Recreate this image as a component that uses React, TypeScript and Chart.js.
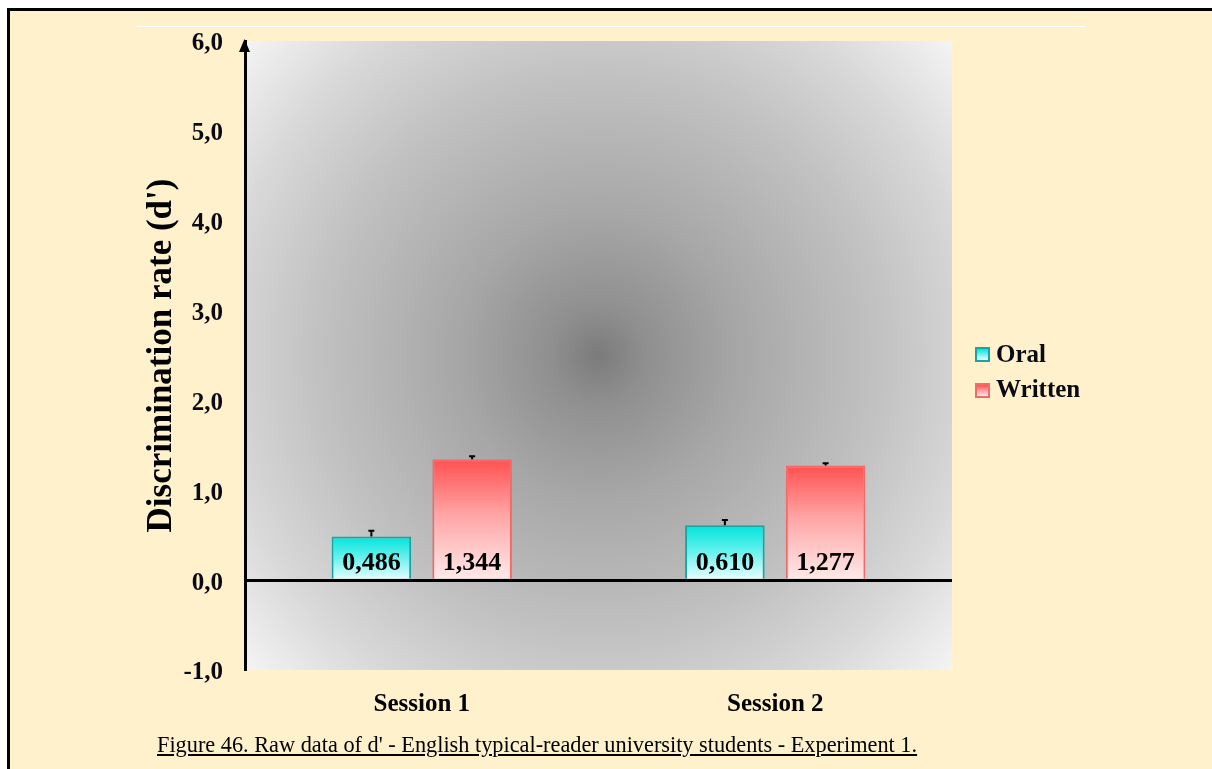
import React, { useEffect, useRef } from 'react';
import { Chart, registerables } from 'chart.js';

Chart.register(...registerables);

const categories = ['Session 1', 'Session 2'];
const seriesNames = ['Oral', 'Written'];
const oralValues = [0.486, 0.61];
const writtenValues = [1.344, 1.277];
const oralErrors = [0.065, 0.06];
const writtenErrors = [0.035, 0.025];
const yMin = -1;
const yMax = 6;
const yStep = 1;
const yTitle = "Discrimination rate (d')";
const caption = "Figure 46. Raw data of d' - English typical-reader university students - Experiment 1.";

const SERIF = "'Liberation Serif', 'Times New Roman', serif";
const fmt = (v: number, d: number) => v.toFixed(d).replace('.', ',');

const oralStops: [number, string][] = [
  [0, '#00e4dc'],
  [0.45, '#5ff0ec'],
  [1, '#eaffff'],
];
const writtenStops: [number, string][] = [
  [0, '#ff5050'],
  [0.45, '#ffa4a4'],
  [1, '#ffeaea'],
];

function barGradient(stops: [number, string][], fallback: string) {
  return (ctx: any) => {
    const chart = ctx.chart;
    if (!chart.chartArea || ctx.type !== 'data') return fallback;
    const y = chart.scales.y;
    const top = y.getPixelForValue(ctx.raw);
    const bot = y.getPixelForValue(0);
    const g = chart.ctx.createLinearGradient(0, top, 0, bot);
    stops.forEach(([o, c]) => g.addColorStop(o, c));
    return g;
  };
}

const backgroundPlugin = {
  id: 'radialBg',
  beforeDraw(chart: any) {
    const { ctx, chartArea } = chart;
    if (!chartArea) return;
    const { left, top, right, bottom } = chartArea;
    const cx = (left + right) / 2;
    const cy = (top + bottom) / 2;
    const r = Math.hypot((right - left) / 2, (bottom - top) / 2);
    const g = ctx.createRadialGradient(cx, cy, 0, cx, cy, r);
    g.addColorStop(0, '#7b7b7b');
    g.addColorStop(0.1, '#8f8f8f');
    g.addColorStop(0.3, '#a7a7a7');
    g.addColorStop(0.6, '#c2c2c2');
    g.addColorStop(0.8, '#d8d8d8');
    g.addColorStop(1, '#f4f4f4');
    ctx.save();
    ctx.fillStyle = g;
    ctx.fillRect(left, top, right - left, bottom - top);
    ctx.restore();
  },
};

const errorLabelPlugin = {
  id: 'errAndLabels',
  afterDatasetsDraw(chart: any) {
    const { ctx } = chart;
    const y = chart.scales.y;
    const errs = [oralErrors, writtenErrors];
    chart.data.datasets.forEach((ds: any, i: number) => {
      const meta = chart.getDatasetMeta(i);
      meta.data.forEach((bar: any, j: number) => {
        const v = ds.data[j];
        const e = errs[i][j];
        const yTop = y.getPixelForValue(v);
        const yErr = y.getPixelForValue(v + e);
        ctx.save();
        ctx.strokeStyle = '#000';
        ctx.lineWidth = 2;
        ctx.beginPath();
        ctx.moveTo(bar.x, yTop);
        ctx.lineTo(bar.x, yErr);
        ctx.moveTo(bar.x - 3, yErr);
        ctx.lineTo(bar.x + 3, yErr);
        ctx.stroke();
        ctx.fillStyle = '#000';
        ctx.font = `bold 26px ${SERIF}`;
        ctx.textAlign = 'center';
        ctx.textBaseline = 'alphabetic';
        ctx.fillText(fmt(v, 3), bar.x, y.getPixelForValue(0) - 10);
        ctx.restore();
      });
    });
  },
};

const arrowPlugin = {
  id: 'axisArrow',
  afterDraw(chart: any) {
    const { ctx, chartArea } = chart;
    const x = chartArea.left - 0.5;
    const t = chartArea.top;
    ctx.save();
    ctx.fillStyle = '#000';
    ctx.beginPath();
    ctx.moveTo(x, t - 2);
    ctx.lineTo(x - 5.5, t + 11);
    ctx.lineTo(x + 5.5, t + 11);
    ctx.closePath();
    ctx.fill();
    ctx.restore();
  },
};

export default function App() {
  const canvasRef = useRef<HTMLCanvasElement | null>(null);

  useEffect(() => {
    if (!canvasRef.current) return;
    const chart = new Chart(canvasRef.current, {
      type: 'bar',
      data: {
        labels: categories,
        datasets: [
          {
            label: seriesNames[0],
            data: oralValues,
            backgroundColor: barGradient(oralStops, '#00e4dc'),
            borderColor: '#1aa3a3',
            borderWidth: 2,
            borderSkipped: 'start',
            categoryPercentage: 0.57,
            barPercentage: 0.79,
          },
          {
            label: seriesNames[1],
            data: writtenValues,
            backgroundColor: barGradient(writtenStops, '#ff5050'),
            borderColor: '#f26a6a',
            borderWidth: 2,
            borderSkipped: 'start',
            categoryPercentage: 0.57,
            barPercentage: 0.79,
          },
        ],
      },
      options: {
        responsive: false,
        maintainAspectRatio: false,
        devicePixelRatio: 1,
        animation: false,
        layout: { padding: { left: 141, top: 41, right: 260, bottom: 39 } },
        plugins: {
          legend: { display: false },
          tooltip: { enabled: false },
        },
        scales: {
          x: {
            type: 'category',
            grid: { display: false },
            border: { display: false },
            ticks: {
              color: '#000',
              padding: 12,
              font: { family: SERIF, size: 25, weight: 'bold' },
            },
            afterFit(scale: any) {
              scale.height = 60;
            },
          },
          y: {
            min: yMin,
            max: yMax,
            z: 1,
            grid: {
              drawTicks: false,
              color: (c: any) => (c.tick && c.tick.value === 0 ? '#000' : 'rgba(0,0,0,0)'),
              lineWidth: (c: any) => (c.tick && c.tick.value === 0 ? 3 : 1),
            },
            border: { display: true, color: '#000', width: 3 },
            ticks: {
              stepSize: yStep,
              color: '#0a0a14',
              padding: 22,
              labelOffset: 3,
              font: { family: SERIF, size: 25, weight: 'bold' },
              callback: (v: any) => fmt(Number(v), 1),
            },
            title: {
              display: true,
              text: yTitle,
              color: '#000',
              padding: 0,
              font: { family: SERIF, size: 35, weight: 'bold' },
            },
            afterFit(scale: any) {
              scale.width = 104;
            },
          },
        },
      },
      plugins: [backgroundPlugin, errorLabelPlugin, arrowPlugin],
    } as any);
    return () => chart.destroy();
  }, []);

  const legendText: React.CSSProperties = {
    position: 'absolute',
    left: 996,
    fontFamily: SERIF,
    fontWeight: 'bold',
    fontSize: 25,
    lineHeight: '25px',
    color: '#0a0a14',
    whiteSpace: 'nowrap',
  };
  const swatch: React.CSSProperties = {
    position: 'absolute',
    left: 975,
    width: 15,
    height: 15,
    boxSizing: 'border-box',
    borderWidth: 2,
    borderStyle: 'solid',
  };

  return (
    <div style={{ position: 'fixed', left: 0, top: 0, width: 1212, height: 769, overflow: 'hidden', background: '#fff' }}>
      <div
        style={{
          position: 'absolute',
          left: 7,
          top: 8,
          width: 1400,
          height: 1000,
          border: '3px solid #000',
          background: '#FFF1CC',
          boxSizing: 'border-box',
        }}
      />
      <div style={{ position: 'absolute', left: 137, top: 26, width: 948, height: 1, background: '#ffffff' }} />
      <canvas
        ref={canvasRef}
        width={1212}
        height={769}
        style={{ position: 'absolute', left: 0, top: 0, width: 1212, height: 769 }}
      />
      <div style={{ ...swatch, top: 347, borderColor: '#1aa3a3', background: 'linear-gradient(to bottom, #00e4dc, #eaffff)' }} />
      <div style={{ ...legendText, top: 341 }}>{seriesNames[0]}</div>
      <div style={{ ...swatch, top: 383, borderColor: '#f26a6a', background: 'linear-gradient(to bottom, #ff5050, #ffeaea)' }} />
      <div style={{ ...legendText, top: 376 }}>{seriesNames[1]}</div>
      <div
        style={{
          position: 'absolute',
          left: 157,
          top: 734,
          fontFamily: SERIF,
          fontSize: 22.3,
          lineHeight: '22px',
          color: '#000',
          textDecoration: 'underline',
          whiteSpace: 'nowrap',
        }}
      >
        {caption}
      </div>
    </div>
  );
}
